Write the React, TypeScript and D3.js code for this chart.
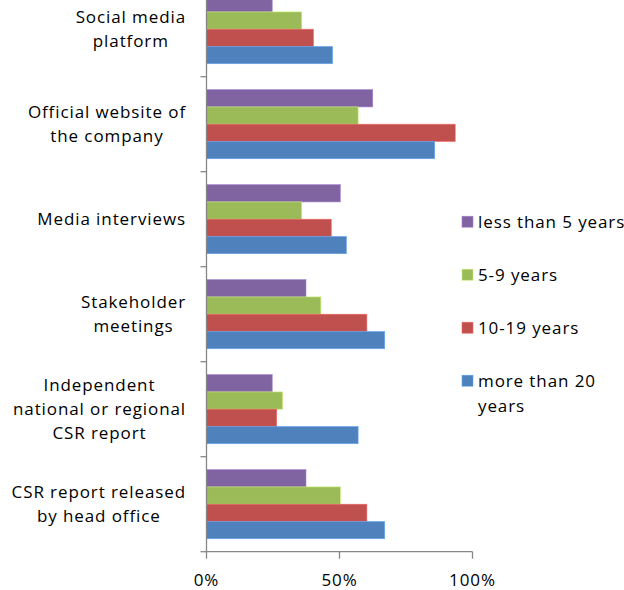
import React, { useEffect, useRef } from 'react';
import * as d3 from 'd3';

const categories = [
  'Social media platform',
  'Official website of the company',
  'Media interviews',
  'Stakeholder meetings',
  'Independent national or regional CSR report',
  'CSR report released by head office',
];
const categoryLines = [
  ['Social media', 'platform'],
  ['Official website of', 'the company'],
  ['Media interviews'],
  ['Stakeholder', 'meetings'],
  ['Independent', 'national or regional', 'CSR report'],
  ['CSR report released', 'by head office'],
];
const seriesNames = ['less than 5 years', '5-9 years', '10-19 years', 'more than 20 years'];
const legendLines = [['less than 5 years'], ['5-9 years'], ['10-19 years'], ['more than 20', 'years']];
const lessThan5 = [24.7, 62.5, 50.3, 37.4, 24.7, 37.4];
const years5to9 = [35.8, 57.0, 35.8, 43.0, 28.6, 50.3];
const years10to19 = [40.2, 93.5, 46.9, 60.3, 26.4, 60.3];
const moreThan20 = [47.4, 85.8, 52.6, 67.0, 57.0, 67.0];
const seriesValues = [lessThan5, years5to9, years10to19, moreThan20];
const xTicks = [0, 50, 100];
const colors = ['#8064A2', '#9BBB59', '#C0504D', '#4F81BD'];

const W = 624;
const H = 590;
const FONT = '"Open Sans", "DejaVu Sans", sans-serif';
const FS = 17;
const LS = 0.9;

export default function App() {
  const ref = useRef<SVGSVGElement | null>(null);

  useEffect(() => {
    const svg = d3.select(ref.current);
    svg.selectAll('*').remove();

    const plotLeft = 206.5;
    const plotRight = 472.5;
    const plotTop = -18.3;
    const plotBottom = 551.7;
    const labelRight = 186;

    const x = d3.scaleLinear().domain([0, 100]).range([plotLeft, plotRight]);
    const y = d3.scaleBand<string>().domain(categories).range([plotTop, plotBottom]).paddingInner(0).paddingOuter(0);
    const ySub = d3
      .scaleBand<string>()
      .domain(seriesNames)
      .range([0, y.bandwidth()])
      .paddingInner(0)
      .paddingOuter(0.75);

    const g = svg.append('g');

    // bars
    seriesNames.forEach((s, si) => {
      g.append('g')
        .selectAll('rect')
        .data(seriesValues[si])
        .join('rect')
        .attr('x', x(0))
        .attr('y', (_d, i) => (y(categories[i]) as number) + (ySub(s) as number))
        .attr('width', (d) => x(d) - x(0))
        .attr('height', ySub.bandwidth())
        .attr('fill', colors[si])
        .attr('stroke', d3.color(colors[si])!.brighter(0.7).formatHex())
        .attr('stroke-width', 0.6);
    });

    const axisColor = '#868686';
    g.append('line')
      .attr('x1', plotLeft).attr('x2', plotLeft)
      .attr('y1', plotTop).attr('y2', plotBottom)
      .attr('stroke', axisColor).attr('stroke-width', 1.3);
    const boundaries = categories.map((c) => (y(c) as number) + y.bandwidth());
    g.append('g')
      .selectAll('line')
      .data(boundaries)
      .join('line')
      .attr('x1', plotLeft - 6).attr('x2', plotLeft)
      .attr('y1', (d) => d).attr('y2', (d) => d)
      .attr('stroke', axisColor).attr('stroke-width', 1.3);
    g.append('line')
      .attr('x1', plotLeft).attr('x2', plotRight)
      .attr('y1', plotBottom).attr('y2', plotBottom)
      .attr('stroke', axisColor).attr('stroke-width', 1.3);
    g.append('g')
      .selectAll('line')
      .data(xTicks)
      .join('line')
      .attr('x1', (d) => x(d)).attr('x2', (d) => x(d))
      .attr('y1', plotBottom).attr('y2', plotBottom + 7)
      .attr('stroke', axisColor).attr('stroke-width', 1.3);
    g.append('g')
      .selectAll('text')
      .data(xTicks)
      .join('text')
      .attr('x', (d) => x(d))
      .attr('y', plotBottom + 34)
      .attr('text-anchor', 'middle')
      .attr('font-family', FONT)
      .attr('font-size', FS)
      .attr('letter-spacing', LS)
      .attr('fill', '#000')
      .text((d) => `${d}%`);

    // category labels
    const lineH = 24;
    categories.forEach((c, ci) => {
      const lines = categoryLines[ci];
      const cy = (y(c) as number) + y.bandwidth() / 2;
      const tg = g.append('g');
      const texts = lines.map((ln, li) =>
        tg
          .append('text')
          .attr('y', cy + (li - (lines.length - 1) / 2) * lineH)
          .attr('dy', '0.35em')
          .attr('text-anchor', 'middle')
          .attr('font-family', FONT)
          .attr('font-size', FS)
          .attr('letter-spacing', LS)
          .attr('fill', '#000')
          .text(ln)
      );
      const maxW = d3.max(texts, (t) => (t.node() as SVGTextElement).getComputedTextLength()) || 0;
      texts.forEach((t) => t.attr('x', labelRight - maxW / 2));
    });

    // legend
    const legX = 462;
    const legTop = 221.7;
    const legStep = 53;
    seriesNames.forEach((s, si) => {
      const cy = legTop + si * legStep;
      g.append('rect')
        .attr('x', legX)
        .attr('y', cy - 5.5)
        .attr('width', 11)
        .attr('height', 11)
        .attr('fill', colors[si])
        .attr('stroke', d3.color(colors[si])!.brighter(0.7).formatHex())
        .attr('stroke-width', 0.6);
      legendLines[si].forEach((ln, li) => {
        g.append('text')
          .attr('x', legX + 16)
          .attr('y', cy + li * 25)
          .attr('dy', '0.35em')
          .attr('font-family', FONT)
          .attr('font-size', FS)
          .attr('letter-spacing', LS)
          .attr('fill', '#000')
          .text(ln);
      });
    });
  }, []);

  return (
    <svg
      ref={ref}
      width={W}
      height={H}
      style={{ position: 'absolute', left: 0, top: 0, background: '#fff', display: 'block' }}
    />
  );
}
